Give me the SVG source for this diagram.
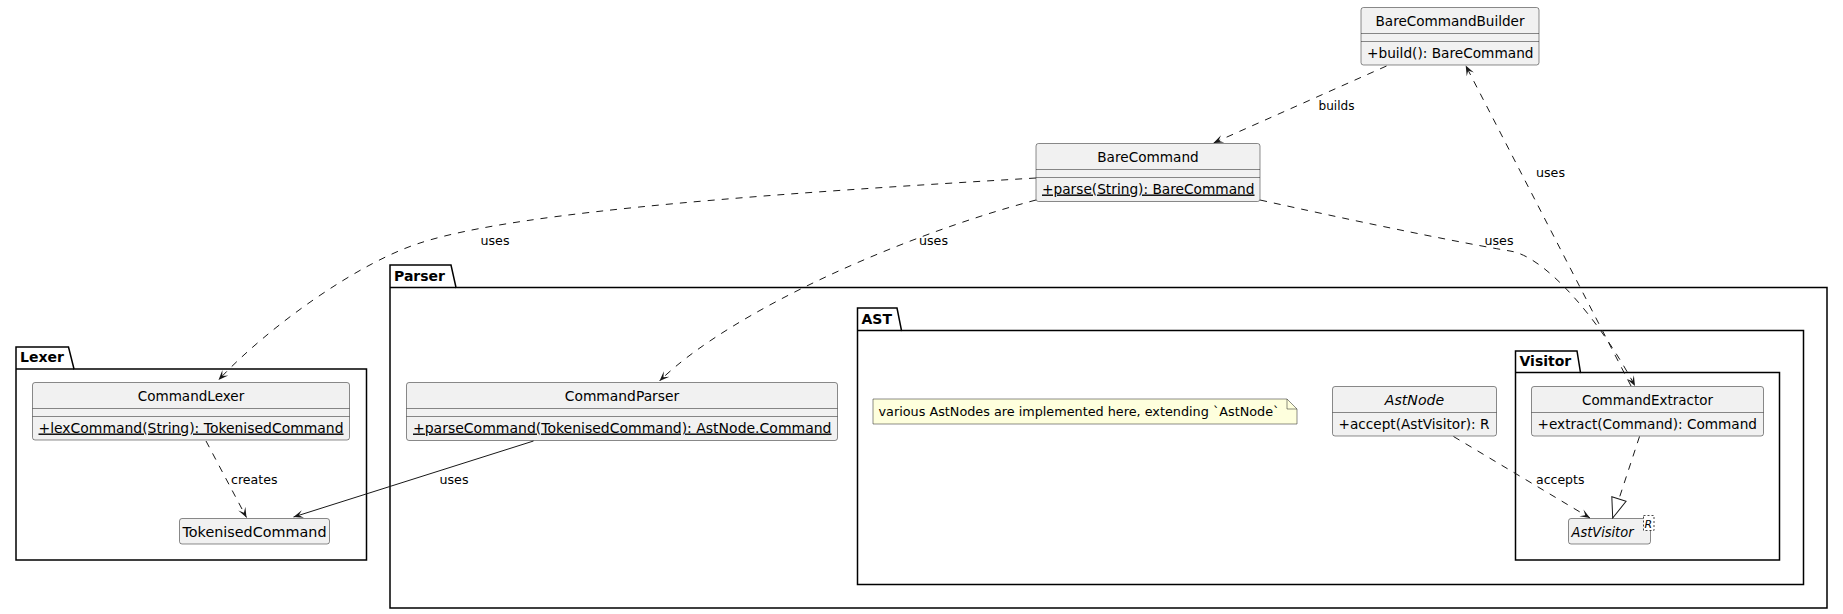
<svg xmlns="http://www.w3.org/2000/svg" width="1843" height="614" viewBox="0 0 1843 614">
<style>
text{font-family:"DejaVu Sans","Liberation Sans",sans-serif;fill:#000}
.cls{fill:#F1F1F1;stroke:#181818;stroke-width:0.5}
.sep{stroke:#181818;stroke-width:0.5}
.pkg{fill:none;stroke:#000;stroke-width:1.5}
.pt{font-size:14px;font-weight:bold}
.t{font-size:14px}
.it{font-style:italic}
.u{text-decoration:underline}
.lbl{font-size:13px}
.dash{fill:none;stroke:#181818;stroke-width:1;stroke-dasharray:7,7}
.solid{fill:none;stroke:#181818;stroke-width:1}
</style>
<defs>
<marker id="arr" viewBox="-10 -5 11 10" refX="0" refY="0" markerWidth="11" markerHeight="10" markerUnits="userSpaceOnUse" orient="auto">
<path d="M0,0 L-10,-4 L-5.5,0 L-10,4 Z" fill="#181818"/>
</marker>
<marker id="tri" viewBox="-21 -9 22 18" refX="0" refY="0" markerWidth="22" markerHeight="18" markerUnits="userSpaceOnUse" orient="auto">
<path d="M0,0 L-20,-7.5 L-20,7.5 Z" fill="#fff" stroke="#181818" stroke-width="1"/>
</marker>
</defs>

<g id="pkg-lexer">
<path class="pkg" d="M16,347 L68.5,347 L74,369 L366.5,369 L366.5,560 L16,560 Z"/>
<line x1="16" y1="369" x2="74" y2="369" stroke="#000" stroke-width="1.5"/>
<text class="pt" x="20" y="362">Lexer</text>
</g>

<g id="pkg-parser">
<path class="pkg" d="M390,265 L451,265 L456,287.5 L1827,287.5 L1827,608 L390,608 Z"/>
<line x1="390" y1="287.5" x2="456" y2="287.5" stroke="#000" stroke-width="1.5"/>
<text class="pt" x="394" y="280.5">Parser</text>
</g>

<g id="pkg-ast">
<path class="pkg" d="M857.5,308 L897,308 L901.5,330.5 L1803.5,330.5 L1803.5,584.5 L857.5,584.5 Z"/>
<line x1="857.5" y1="330.5" x2="901.5" y2="330.5" stroke="#000" stroke-width="1.5"/>
<text class="pt" x="861.5" y="323.5">AST</text>
</g>

<g id="pkg-visitor">
<path class="pkg" d="M1515.5,351 L1577,351 L1580.5,372.5 L1779.5,372.5 L1779.5,560 L1515.5,560 Z"/>
<line x1="1515.5" y1="372.5" x2="1580.5" y2="372.5" stroke="#000" stroke-width="1.5"/>
<text class="pt" x="1519.5" y="366">Visitor</text>
</g>

<g id="BareCommandBuilder">
<rect class="cls" x="1361" y="7.5" width="178" height="57.5" rx="2.5"/>
<line class="sep" x1="1361" y1="33.5" x2="1539" y2="33.5"/>
<line class="sep" x1="1361" y1="41.5" x2="1539" y2="41.5"/>
<text class="t" x="1450" y="25.5" text-anchor="middle" textLength="149" lengthAdjust="spacingAndGlyphs">BareCommandBuilder</text>
<text class="t" x="1367" y="57.5" textLength="166.5" lengthAdjust="spacingAndGlyphs">+build(): BareCommand</text>
</g>

<g id="BareCommand">
<rect class="cls" x="1036" y="143.5" width="224" height="58" rx="2.5"/>
<line class="sep" x1="1036" y1="169.5" x2="1260" y2="169.5"/>
<line class="sep" x1="1036" y1="177.5" x2="1260" y2="177.5"/>
<text class="t" x="1148" y="161.5" text-anchor="middle" textLength="101.5" lengthAdjust="spacingAndGlyphs">BareCommand</text>
<text class="t u" x="1042" y="193.5" textLength="212.5" lengthAdjust="spacingAndGlyphs">+parse(String): BareCommand</text>
</g>

<g id="CommandLexer">
<rect class="cls" x="32.5" y="382.5" width="317" height="57.5" rx="2.5"/>
<line class="sep" x1="32.5" y1="408.5" x2="349.5" y2="408.5"/>
<line class="sep" x1="32.5" y1="416.5" x2="349.5" y2="416.5"/>
<text class="t" x="191" y="400.5" text-anchor="middle" textLength="106.5" lengthAdjust="spacingAndGlyphs">CommandLexer</text>
<text class="t u" x="38.5" y="432.5" textLength="305" lengthAdjust="spacingAndGlyphs">+lexCommand(String): TokenisedCommand</text>
</g>

<g id="TokenisedCommand">
<rect class="cls" x="179.5" y="518.5" width="150" height="25.5" rx="2.5"/>
<text class="t" x="254.5" y="536.5" text-anchor="middle" textLength="144" lengthAdjust="spacingAndGlyphs">TokenisedCommand</text>
</g>

<g id="CommandParser">
<rect class="cls" x="406.5" y="382.5" width="431" height="58" rx="2.5"/>
<line class="sep" x1="406.5" y1="408.5" x2="837.5" y2="408.5"/>
<line class="sep" x1="406.5" y1="416.5" x2="837.5" y2="416.5"/>
<text class="t" x="622" y="400.5" text-anchor="middle" textLength="114.5" lengthAdjust="spacingAndGlyphs">CommandParser</text>
<text class="t u" x="413" y="432.5" textLength="418.5" lengthAdjust="spacingAndGlyphs">+parseCommand(TokenisedCommand): AstNode.Command</text>
</g>

<g id="note">
<path d="M873,399 L1287,399 L1297,409 L1297,424 L873,424 Z" fill="#FEFFDD" stroke="#181818" stroke-width="0.5"/>
<path d="M1287,399 L1287,409 L1297,409" fill="none" stroke="#181818" stroke-width="0.5"/>
<text class="lbl" x="878.5" y="415.5" textLength="401" lengthAdjust="spacingAndGlyphs">various AstNodes are implemented here, extending `AstNode`</text>
</g>

<g id="AstNode">
<rect class="cls" x="1332.5" y="386.5" width="164" height="49.5" rx="2.5"/>
<line class="sep" x1="1332.5" y1="412.5" x2="1496.5" y2="412.5"/>
<text class="t it" x="1414.5" y="404.5" text-anchor="middle" textLength="59.5" lengthAdjust="spacingAndGlyphs">AstNode</text>
<text class="t" x="1338.5" y="428.5" textLength="151" lengthAdjust="spacingAndGlyphs">+accept(AstVisitor): R</text>
</g>

<g id="CommandExtractor">
<rect class="cls" x="1531.5" y="386.5" width="232" height="49.5" rx="2.5"/>
<line class="sep" x1="1531.5" y1="412.5" x2="1763.5" y2="412.5"/>
<text class="t" x="1647.5" y="404.5" text-anchor="middle" textLength="131" lengthAdjust="spacingAndGlyphs">CommandExtractor</text>
<text class="t" x="1537.5" y="428.5" textLength="219.5" lengthAdjust="spacingAndGlyphs">+extract(Command): Command</text>
</g>

<g id="AstVisitor">
<rect class="cls" x="1568.5" y="518.5" width="82" height="25.5" rx="2.5"/>
<text class="t it" x="1571.5" y="536.5" textLength="62" lengthAdjust="spacingAndGlyphs">AstVisitor</text>
<rect x="1643.5" y="515.5" width="10.5" height="15" fill="#fff" stroke="#181818" stroke-width="0.8" stroke-dasharray="2,2"/>
<text class="it" x="1644.5" y="527.5" font-size="11px">R</text>
</g>

<g id="connectors">
<path class="dash" d="M1386.5,66 L1213.5,143" marker-end="url(#arr)"/>
<text class="lbl" x="1318.5" y="109.5" textLength="36" lengthAdjust="spacingAndGlyphs">builds</text>

<path class="dash" d="M1631,386 L1465.7,65.5" marker-end="url(#arr)"/>
<text class="lbl" x="1536" y="177" textLength="29" lengthAdjust="spacingAndGlyphs">uses</text>

<path class="dash" d="M1036,178 C800,192 520,210 420,243 C360,262 270,325 218.5,380" marker-end="url(#arr)"/>
<text class="lbl" x="480.5" y="245" textLength="29" lengthAdjust="spacingAndGlyphs">uses</text>

<path class="dash" d="M1036,200 C900,236 730,312 659.5,381" marker-end="url(#arr)"/>
<text class="lbl" x="919" y="245" textLength="29" lengthAdjust="spacingAndGlyphs">uses</text>

<path class="dash" d="M1260,200 C1400,231 1480,246 1510,251 C1545,256 1600,320 1635,386" marker-end="url(#arr)"/>
<text class="lbl" x="1484.5" y="245" textLength="29" lengthAdjust="spacingAndGlyphs">uses</text>

<path class="dash" d="M206,441 L246.5,517.5" marker-end="url(#arr)"/>
<text class="lbl" x="231" y="484" textLength="46.5" lengthAdjust="spacingAndGlyphs">creates</text>

<path class="solid" d="M533.5,441 L293.5,517" marker-end="url(#arr)"/>
<text class="lbl" x="439.5" y="484" textLength="29" lengthAdjust="spacingAndGlyphs">uses</text>

<path class="dash" d="M1453.5,436.5 L1590,518" marker-end="url(#arr)"/>
<text class="lbl" x="1536" y="484" textLength="48.5" lengthAdjust="spacingAndGlyphs">accepts</text>

<path class="dash" d="M1639.5,436.5 L1612.7,518" marker-end="url(#tri)"/>
</g>
</svg>
